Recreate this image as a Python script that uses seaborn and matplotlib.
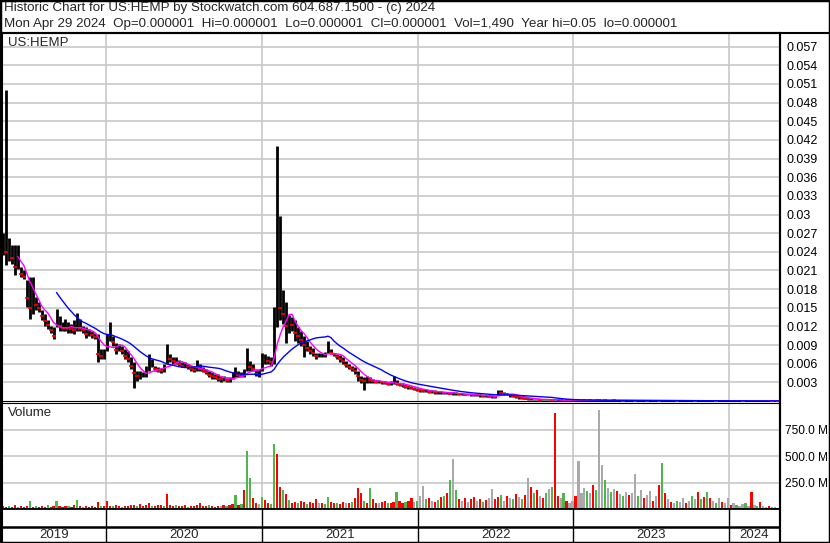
import matplotlib
matplotlib.use('Agg')

import pandas as pd
import matplotlib.pyplot as plt
import seaborn as sns
from matplotlib.lines import Line2D
from matplotlib.patches import Rectangle

# ------------------------------------------------------------------
# Weekly bars (prices in units of 0.0001 $)
# ------------------------------------------------------------------
first_week = "2019-05-03"

price_high = [
    270, 500, 262, 251, 251, 251, 216, 210, 194, 200,
    200, 167, 159, 146, 140, 130, 121, 119, 148, 137,
    127, 132, 127, 124, 130, 141, 132, 121, 119, 116,
    113, 110, 108, 84, 84, 108, 127, 105, 94, 92,
    89, 84, 81, 70, 62, 48, 48, 46, 56, 75,
    67, 56, 54, 53, 59, 92, 75, 71, 70, 66,
    62, 62, 59, 56, 56, 66, 59, 54, 51, 48,
    46, 43, 43, 40, 40, 38, 39, 46, 55, 48,
    46, 51, 86, 64, 59, 51, 51, 78, 75, 73,
    70, 151, 410, 298, 178, 159, 138, 135, 130, 119,
    113, 105, 97, 89, 86, 78, 78, 78, 79, 97,
    84, 78, 75, 74, 70, 64, 59, 56, 54, 48,
    40, 38, 40, 38, 35, 34, 34, 32, 32, 31,
    32, 40, 34, 29, 29, 27, 26, 24, 23, 21,
    20, 19, 19, 18, 17, 17, 16, 16, 15, 15,
    14, 14, 14, 13, 13, 12, 12, 12, 11, 11,
    11, 10, 10, 9, 9, 8, 18, 17, 15, 13,
    11, 10, 9, 8, 7, 6, 5, 5, 4, 4,
    4, 3, 3, 3, 3, 2.5, 2.5, 2.5, 2, 2,
    2, 2.5, 2.5, 2, 2, 2.5, 2, 2, 2, 3,
    2, 2, 2, 2, 1.5, 2, 1.5, 1.5, 2, 1.5,
    1.5, 1.5, 2, 1.5, 1.5, 1.5, 1.5, 1.5, 1.5, 1.5,
    1.5, 2, 1.5, 1.5, 1.5, 1, 1, 1, 1.5, 1,
    1, 1, 1, 1.5, 1, 1, 1, 1, 1, 1,
    1, 1, 1, 1, 1, 1, 1, 1, 1, 1,
    1, 1.5, 1, 1, 1, 1, 1, 0.8, 0.8, 0.8,
    0.5,
]

price_low = [
    235, 219, 225, 221, 202, 213, 200, 197, 151, 132,
    140, 146, 143, 130, 121, 116, 110, 100, 119, 113,
    113, 113, 110, 110, 108, 113, 113, 110, 102, 105,
    102, 100, 62, 67, 67, 81, 97, 89, 75, 81,
    75, 67, 62, 51, 21, 32, 35, 38, 38, 48,
    54, 48, 46, 45, 46, 59, 62, 60, 59, 56,
    54, 54, 51, 48, 46, 48, 48, 46, 43, 38,
    35, 35, 32, 31, 32, 31, 31, 35, 38, 38,
    38, 38, 48, 48, 48, 40, 39, 48, 59, 59,
    56, 59, 119, 130, 124, 94, 110, 113, 97, 94,
    89, 70, 81, 75, 73, 67, 70, 70, 70, 78,
    75, 73, 67, 62, 59, 54, 51, 48, 43, 32,
    29, 17, 29, 29, 29, 29, 29, 28, 27, 26,
    26, 27, 26, 24, 23, 21, 20, 19, 17, 16,
    15, 14, 14, 13, 13, 12, 12, 12, 11, 11,
    11, 10, 10, 10, 9, 9, 9, 8, 8, 8,
    7, 7, 6, 6, 5, 5, 9, 11, 10, 9,
    7, 6, 5, 4, 3, 3, 2, 2, 2, 2,
    1, 1, 1, 1, 1, 1, 0.8, 0.8, 0.8, 0.6,
    0.6, 0.3, 0.3, 0.3, 0.3, 0.3, 0.3, 0.3, 0.3, 0.3,
    0.3, 0.3, 0.3, 0.3, 0.3, 0.3, 0.3, 0.3, 0.3, 0.3,
    0.3, 0.3, 0.3, 0.3, 0.3, 0.3, 0.3, 0.3, 0.3, 0.3,
    0.3, 0.3, 0.3, 0.3, 0.3, 0.3, 0.3, 0.3, 0.3, 0.3,
    0.3, 0.1, 0.1, 0.1, 0.1, 0.1, 0.1, 0.1, 0.1, 0.1,
    0.1, 0.1, 0.1, 0.1, 0.1, 0.1, 0.1, 0.1, 0.1, 0.1,
    0.1, 0.1, 0.1, 0.1, 0.1, 0.1, 0.1, 0.1, 0.1, 0.1,
    0.01,
]

price_close = [
    250, 240, 240, 230, 215, 220, 205, 200, 165, 150,
    160, 155, 150, 137, 128, 122, 115, 105, 128, 120,
    118, 120, 117, 116, 115, 122, 118, 114, 108, 108,
    106, 103, 75, 72, 76, 92, 105, 95, 82, 85,
    80, 73, 68, 57, 45, 40, 40, 42, 45, 58,
    58, 51, 49, 48, 52, 70, 67, 64, 63, 60,
    57, 57, 54, 52, 50, 53, 52, 49, 46, 42,
    40, 38, 36, 35, 35, 34, 35, 40, 43, 42,
    41, 44, 58, 55, 52, 44, 45, 60, 65, 64,
    62, 120, 180, 150, 140, 120, 125, 122, 110, 105,
    98, 90, 86, 80, 78, 72, 73, 73, 74, 85,
    78, 75, 70, 67, 64, 58, 55, 52, 48, 40,
    34, 32, 34, 33, 32, 31, 31, 30, 29, 28,
    28, 30, 28, 26, 25, 23, 22, 21, 20, 18,
    17, 16, 16, 15, 15, 14, 14, 14, 13, 13,
    12, 12, 12, 11, 11, 10, 10, 10, 9, 9,
    9, 8, 8, 7, 7, 6, 14, 13, 12, 11,
    9, 8, 7, 6, 5, 4, 3, 3, 3, 3,
    2, 2, 2, 2, 1.5, 1.5, 1.5, 1.2, 1.2, 1,
    1, 1.5, 1.5, 1.4, 1.4, 1.3, 1.3, 1.2, 1.2, 1.2,
    1.1, 1.1, 1.0, 1.0, 1.0, 0.9, 0.9, 0.9, 0.8, 0.8,
    0.8, 0.8, 0.7, 0.7, 0.7, 0.7, 0.6, 0.6, 0.6, 0.6,
    0.5, 0.5, 0.5, 0.5, 0.5, 0.5, 0.4, 0.4, 0.4, 0.4,
    0.4, 0.4, 0.3, 0.3, 0.3, 0.3, 0.3, 0.3, 0.3, 0.2,
    0.2, 0.2, 0.2, 0.2, 0.2, 0.2, 0.2, 0.2, 0.1, 0.1,
    0.1, 0.1, 0.1, 0.1, 0.1, 0.1, 0.1, 0.1, 0.05, 0.05,
    0.01,
]

# weekly volume peaks, millions of shares
volume_m = [
    25, 20, 30, 18, 35, 22, 28, 15, 30, 76,
    20, 25, 18, 30, 22, 35, 20, 25, 72, 28,
    22, 30, 25, 18, 35, 86, 25, 20, 30, 22,
    28, 20, 66, 25, 30, 72, 30, 25, 35, 28,
    22, 30, 25, 40, 35, 28, 45, 30, 38, 57,
    30, 25, 35, 40, 30, 146, 35, 28, 40, 30,
    25, 35, 22, 30, 28, 40, 55, 30, 25, 35,
    28, 22, 30, 25, 40, 30, 35, 45, 136, 40,
    50, 181, 544, 296, 105, 60, 45, 110, 86, 60,
    50, 614, 518, 210, 181, 146, 86, 60, 70, 55,
    80, 65, 50, 70, 60, 94, 55, 60, 50, 115,
    70, 55, 60, 50, 65, 55, 60, 70, 100, 194,
    150, 80, 60, 200, 90, 60, 55, 65, 80, 60,
    55, 70, 162, 80, 60, 70, 80, 100, 70, 80,
    120, 219, 90, 100, 80, 70, 85, 110, 120, 150,
    273, 474, 180, 90, 80, 100, 70, 90, 110, 80,
    95, 70, 85, 100, 187, 90, 110, 130, 80, 120,
    100, 90, 140, 110, 90, 130, 294, 208, 150, 180,
    120, 100, 150, 187, 210, 903, 120, 100, 150, 80,
    60, 80, 120, 458, 150, 200, 170, 150, 230, 180,
    935, 414, 270, 200, 160, 190, 170, 140, 120, 160,
    130, 150, 335, 120, 180, 100, 130, 170, 80, 120,
    230, 432, 150, 90, 70, 60, 80, 70, 100, 60,
    80, 120, 90, 162, 90, 110, 160, 100, 80, 60,
    100, 70, 60, 100, 40, 60, 40, 30, 50, 60,
    30, 162, 40, 30, 70, 30, 20, 25, 15, 20,
    10,
]

# g = up, r = down, n = unchanged
volume_dir = list(
    "rrgrr" "grrrg" "rgrrr" "grrgr" "rrgrr" "grgrr" "rrrgr"
    "rrgrr" "grrrr" "grrrr" "grrrg" "rrrgr" "rrgrr" "rrrrg" "rrrnr"
    "grrgr" "grggr" "rngrr" "ggrrg" "rgrrg" "rrgrr" "rnrgg" "rrgrr"
    "nrgrr" "rgrgr" "rnrrg" "rrgrr" "grrng" "nngrn" "rgrgr" "gngrn"
    "rnrrn" "rgrnn" "rrgnr" "ngrng" "rnrgr" "nrgng" "rrngr" "nnrnn"
    "ngnrg" "nngng" "nrngn" "rnngn" "rnnrn" "rgrnr" "ngnnr" "ngnrg"
    "rgrng" "nrnnr" "ngnng" "nrngr" "nnrnn" "n"
)

price_ticks = [0.003, 0.006, 0.009, 0.012, 0.015, 0.018, 0.021, 0.024, 0.027,
               0.03, 0.033, 0.036, 0.039, 0.042, 0.045, 0.048, 0.051, 0.054, 0.057]
price_tick_labels = ["0.003", "0.006", "0.009", "0.012", "0.015", "0.018", "0.021",
                     "0.024", "0.027", "0.03", "0.033", "0.036", "0.039", "0.042",
                     "0.045", "0.048", "0.051", "0.054", "0.057"]
volume_ticks = [250, 500, 750]
volume_tick_labels = ["250.0 M", "500.0 M", "750.0 M"]
year_labels = ["2019", "2020", "2021", "2022", "2023", "2024"]

header_1 = "Historic Chart for US:HEMP by Stockwatch.com 604.687.1500 - (c) 2024"
header_2 = ("Mon Apr 29 2024  Op=0.000001  Hi=0.000001  Lo=0.000001  Cl=0.000001  "
            "Vol=1,490  Year hi=0.05  lo=0.000001")

# ------------------------------------------------------------------
df = pd.DataFrame({
    "date": pd.date_range(first_week, periods=len(price_close), freq="7D"),
    "high": [v * 1e-4 for v in price_high],
    "low": [v * 1e-4 for v in price_low],
    "close": [v * 1e-4 for v in price_close],
    "volume": volume_m,
    "dir": volume_dir,
})
df["ma_short"] = df["close"].rolling(6).mean()
df["ma_long"] = df["close"].rolling(19).mean()
down = df[df["close"] < df["close"].shift(1)]

sns.set_theme(style="white")
plt.rcParams["font.family"] = ["Liberation Sans", "DejaVu Sans"]

W, H = 830, 543
fig = plt.figure(figsize=(W / 100, H / 100), dpi=100)
fig.patch.set_facecolor("white")


def box(left, top, right, bottom):
    return [left / W, 1 - bottom / H, (right - left) / W, (bottom - top) / H]


x0, x1 = pd.Timestamp("2019-05-01"), pd.Timestamp("2024-04-30")
year_edges = [pd.Timestamp(f"{y}-01-01") for y in range(2020, 2025)]
grid_c = "#c8c8c8"

ax = fig.add_axes(box(2, 33, 780, 401))
axv = fig.add_axes(box(2, 403, 780, 509))
axy = fig.add_axes(box(2, 509, 780, 543))

# --- price panel ---
ax.set_xlim(x0, x1)
ax.set_ylim(0, 0.0592)
for t in price_ticks:
    ax.axhline(t, color=grid_c, lw=1.2, zorder=0)
for e in year_edges:
    ax.axvline(e, color=grid_c, lw=1.2, zorder=0)
ax.vlines(df["date"], df["low"], df["high"], color="black", lw=2.0, zorder=2)
ax.scatter(down["date"], down["close"], marker="_", s=5, color="red", lw=1.2, zorder=3)
sns.lineplot(data=df, x="date", y="ma_short", color="#ff00ff", lw=1, ax=ax, zorder=4)
sns.lineplot(data=df, x="date", y="ma_long", color="#0000ff", lw=1, ax=ax, zorder=4)
ax.set_xlabel("")
ax.set_ylabel("")
ax.set_xticks([])
ax.yaxis.tick_right()
ax.set_yticks(price_ticks)
ax.set_yticklabels(price_tick_labels)
ax.tick_params(axis="y", length=0, pad=5, labelsize=9, colors="black")
ax.text(6 / 778, 1 - 10 / 368, "US:HEMP", transform=ax.transAxes, fontsize=9.5,
        va="center", ha="left")

# --- volume panel ---
vol_colors = {"g": "#4cb84c", "r": "#ff0000", "n": "#a9a9a9"}
axv.set_xlim(x0, x1)
axv.set_ylim(0, 1002)
for t in volume_ticks:
    axv.axhline(t, color=grid_c, lw=1.2, zorder=0)
for e in year_edges:
    axv.axvline(e, color=grid_c, lw=1.2, zorder=0)
axv.bar(df["date"], df["volume"], width=5.0,
        color=[vol_colors[d] for d in df["dir"]], lw=0, zorder=2)
axv.set_xticks([])
axv.yaxis.tick_right()
axv.set_yticks(volume_ticks)
axv.set_yticklabels(volume_tick_labels)
axv.tick_params(axis="y", length=0, pad=3.5, labelsize=8.6, colors="black")
axv.text(6 / 778, 1 - 10 / 106, "Volume", transform=axv.transAxes, fontsize=9.5,
         va="center", ha="left")

# --- year band ---
axy.set_xlim(x0, x1)
axy.set_ylim(0, 34)
for e in year_edges:
    axy.axvline(e, color="black", lw=1)
axy.axhline(16, color="black", lw=1.8)
bounds = [x0] + year_edges + [x1]
for lab, a, b in zip(year_labels, bounds[:-1], bounds[1:]):
    axy.text(a + (b - a) / 2, 7.5, lab, ha="center", va="center", fontsize=9.5)
axy.set_xticks([])
axy.set_yticks([])

for a, lw_top, lw_bot in [(ax, 1.5, 0.8), (axv, 0.8, 1.3), (axy, 1.3, 0.8)]:
    for s in a.spines.values():
        s.set_color("black")
    a.spines["left"].set_linewidth(1.5)
    a.spines["right"].set_linewidth(1.5)
    a.spines["top"].set_linewidth(lw_top)
    a.spines["bottom"].set_linewidth(lw_bot)

# header and outer frame
fig.text(4 / W, 1 - 8.5 / H, header_1, fontsize=9.6, va="center", ha="left")
fig.text(4 / W, 1 - 24 / H, header_2, fontsize=9.6, va="center", ha="left")
fig.add_artist(Line2D([0, 1], [1 - 32.5 / H, 1 - 32.5 / H], color="black", lw=1.5))
fig.add_artist(Line2D([780 / W, 780 / W], [0, 1 - 32.5 / H], color="black", lw=1.5))
fig.add_artist(Rectangle((0, 0), 1, 1, transform=fig.transFigure, fill=False,
                         edgecolor="black", lw=2.5))

fig.savefig("out.png", dpi=100)
